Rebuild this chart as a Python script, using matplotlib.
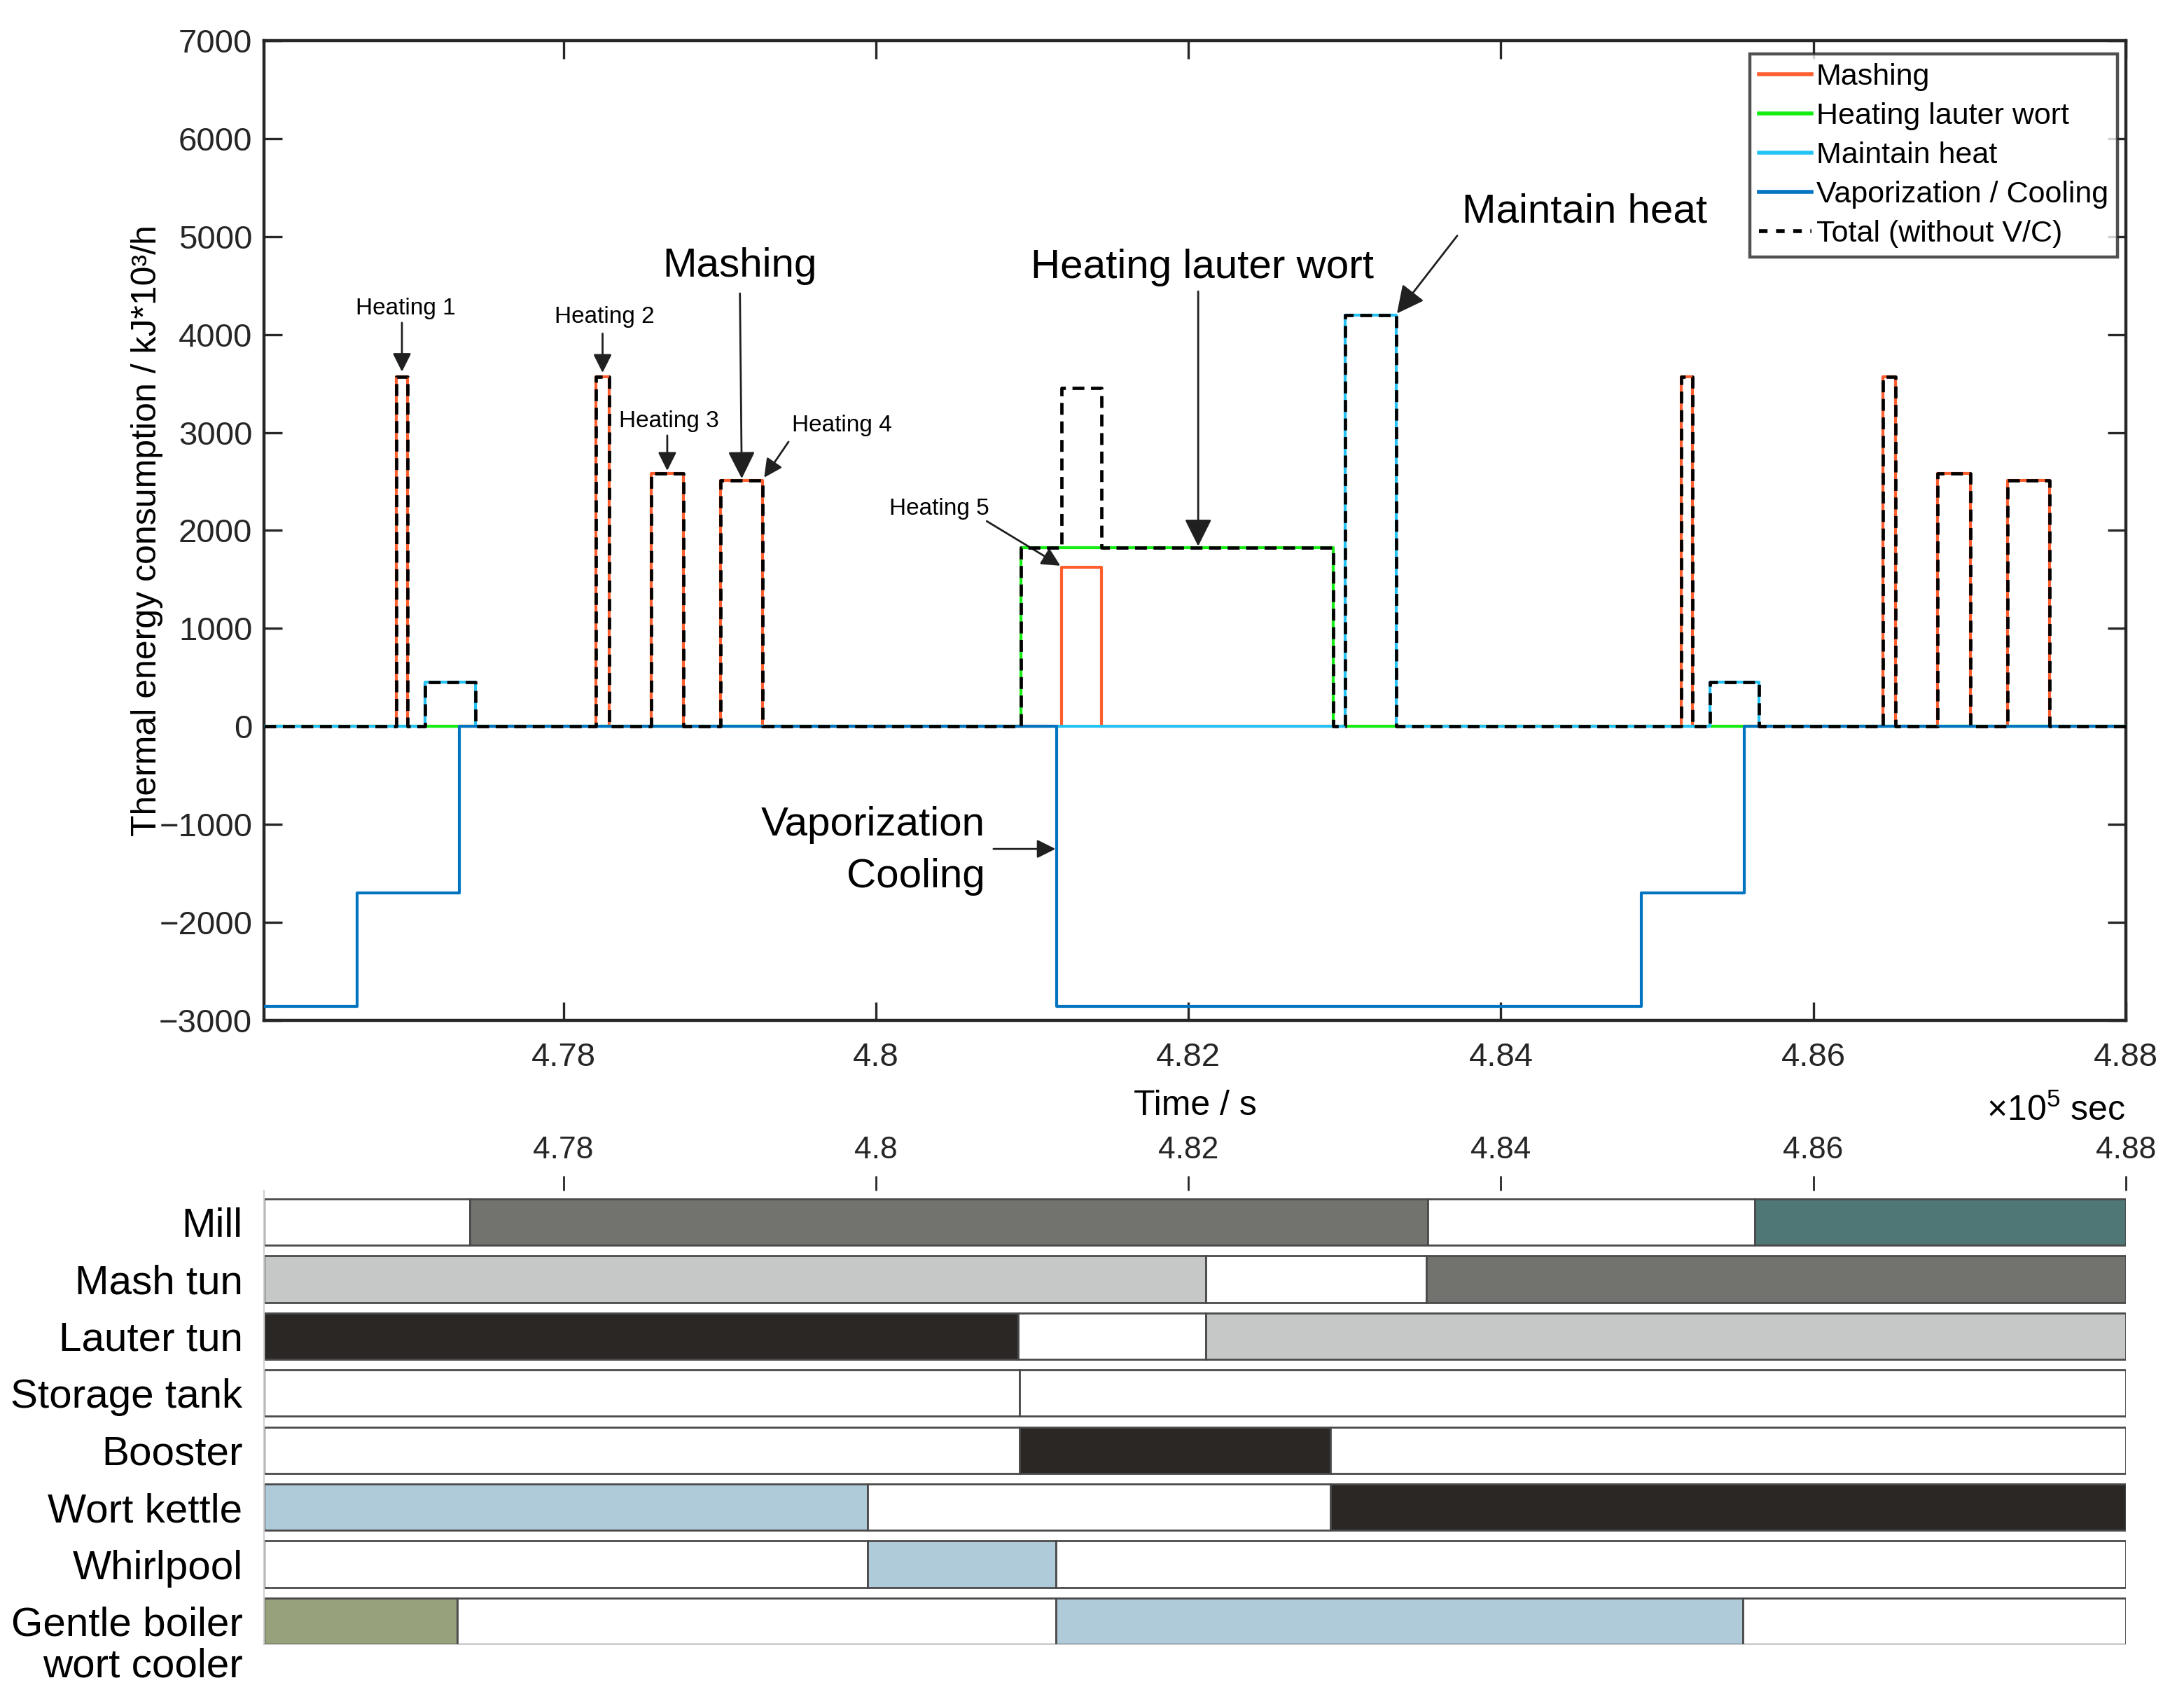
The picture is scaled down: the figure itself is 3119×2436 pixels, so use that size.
import numpy as np
import matplotlib
matplotlib.use("Agg")
import matplotlib.pyplot as plt
from matplotlib.lines import Line2D
from matplotlib.ticker import FuncFormatter

plt.rcParams["font.family"] = ["Liberation Sans", "DejaVu Sans"]
plt.rcParams["mathtext.fontset"] = "custom"
plt.rcParams["mathtext.rm"] = "Liberation Sans"
plt.rcParams["mathtext.it"] = "Liberation Sans:italic"

# time range (s)
T0, T1 = 476084, 488000

# thermal energy profiles: switching times (s) and levels (kJ*10^3/h), step "post"
mash_t = [T0, 476930, 477004, 478209, 478294, 478561, 478769, 479004, 479276,
          481188, 481443, 485156, 485228, 486443, 486524, 486796, 487006, 487241, 487510]
mash_v = [0, 3570, 0, 3570, 0, 2580, 0, 2510, 0,
          1625, 0, 3570, 0, 3570, 0, 2580, 0, 2510, 0]
lauter_t = [T0, 480928, 482929]
lauter_v = [0, 1828, 0]
maint_t = [T0, 477114, 477437, 483005, 483330, 485339, 485654]
maint_v = [0, 454, 0, 4200, 0, 454, 0]
vc_t = [T0, 476680, 477335, 481158, 484901, 485560]
vc_v = [-2860, -1700, 0, -2860, -1700, 0]

# occupancy of the units: segment edges (s) and batch id (None = idle)
units = ["Mill", "Mash tun", "Lauter tun", "Storage tank", "Booster",
         "Wort kettle", "Whirlpool", "Gentle boiler"]
mill_edges = [T0, 477402, 483531, 485627, T1]
mill_batch = [None, 5, None, 6]
mashtun_edges = [T0, 482111, 483522, T1]
mashtun_batch = [4, None, 5]
lautertun_edges = [T0, 480910, 482111, T1]
lautertun_batch = [3, None, 4]
storage_edges = [T0, 480920, T1]
storage_batch = [None, None]
booster_edges = [T0, 480920, 482911, T1]
booster_batch = [None, 3, None]
kettle_edges = [T0, 479945, 482911, T1]
kettle_batch = [2, None, 3]
whirlpool_edges = [T0, 479945, 481154, T1]
whirlpool_batch = [None, 2, None]
cooler_edges = [T0, 477320, 481154, 485548, T1]
cooler_batch = [1, None, 2, None]

unit_edges = [mill_edges, mashtun_edges, lautertun_edges, storage_edges,
              booster_edges, kettle_edges, whirlpool_edges, cooler_edges]
unit_batch = [mill_batch, mashtun_batch, lautertun_batch, storage_batch,
              booster_batch, kettle_batch, whirlpool_batch, cooler_batch]

BATCH_COLORS = {None: "white", 1: "#97A27D", 2: "#AFCBDA", 3: "#2A2725",
                4: "#C5C8C6", 5: "#72726E", 6: "#4E7775"}

C_MASH = "#FF5F2E"
C_LAUTER = "#14EE14"
C_MAINT = "#25C3F5"
C_VC = "#0074C0"

xticks = [478000, 480000, 482000, 484000, 486000, 488000]


def step_xy(t, v):
    return np.r_[t, T1], np.r_[v, v[-1]]


def value_at(t, v, x):
    idx = np.searchsorted(np.asarray(t), x, side="right") - 1
    return np.asarray(v)[idx]


fig = plt.figure(figsize=(15.595, 12.18), dpi=200)

# ---------------- upper panel ----------------
ax = fig.add_axes([0.12087, 0.40189, 0.8525, 0.5743])

ax.step(*step_xy(mash_t, mash_v), where="post", color=C_MASH, lw=1.5, zorder=2)
ax.step(*step_xy(lauter_t, lauter_v), where="post", color=C_LAUTER, lw=1.5, zorder=3)
ax.step(*step_xy(maint_t, maint_v), where="post", color=C_MAINT, lw=1.5, zorder=4)
ax.step(*step_xy(vc_t, vc_v), where="post", color=C_VC, lw=1.5, zorder=5)

tot_t = np.unique(np.r_[mash_t, lauter_t, maint_t])
tot_v = (value_at(mash_t, mash_v, tot_t) + value_at(lauter_t, lauter_v, tot_t)
         + value_at(maint_t, maint_v, tot_t))
ax.step(*step_xy(tot_t, tot_v), where="post", color="black", lw=1.7,
        ls=(0, (3.6, 2.0)), zorder=6)

ax.set_xlim(T0, T1)
ax.set_ylim(-3000, 7000)
ax.set_yticks(np.arange(-3000, 7001, 1000))
ax.set_xticks(xticks)
ax.xaxis.set_major_formatter(FuncFormatter(lambda x, p: f"{x / 1e5:g}"))
ax.tick_params(direction="in", length=9.5, width=1.2, top=True, right=True,
               labelsize=17, colors="#262626")
ax.tick_params(axis="y", pad=6)
ax.tick_params(axis="x", pad=11)
for s in ax.spines.values():
    s.set_linewidth(1.6)
    s.set_color("#262626")

ax.set_xlabel("Time / s", fontsize=18)
ax.xaxis.set_label_coords(0.5, -0.071)
ax.set_ylabel("Thermal energy consumption / kJ*10³/h", fontsize=18)
ax.yaxis.set_label_coords(-0.054, 0.5)
ax.text(1.0, -0.102, r"$\times10^5$ sec", transform=ax.transAxes,
        ha="right", va="baseline", fontsize=18)

handles = [Line2D([], [], color=C_MASH, lw=2),
           Line2D([], [], color=C_LAUTER, lw=2),
           Line2D([], [], color=C_MAINT, lw=2),
           Line2D([], [], color=C_VC, lw=2),
           Line2D([], [], color="black", lw=2, ls=(0, (2.2, 2.2)))]
labels = ["Mashing", "Heating lauter wort", "Maintain heat",
          "Vaporization / Cooling", "Total (without V/C)"]
leg = ax.legend(handles, labels, loc="upper right", bbox_to_anchor=(0.9955, 0.9864),
                borderaxespad=0, fontsize=15.5, frameon=True, fancybox=False,
                edgecolor="#262626", handlelength=1.75, handletextpad=0.15,
                labelspacing=0.37, borderpad=0.3)
leg.get_frame().set_linewidth(1.6)
leg.set_zorder(10)

# annotations
small = 12
big = 21
arr_small = dict(arrowstyle="-|>", color="#202020", lw=1.0, mutation_scale=20,
                 shrinkA=0, shrinkB=0)
arr_big = dict(arrowstyle="-|>", color="#202020", lw=1.0, mutation_scale=30,
               shrinkA=0, shrinkB=0)

ax.text(476990, 4269, "Heating 1", fontsize=small, ha="center", va="center")
ax.annotate("", xy=(476967, 3620), xytext=(476967, 4120), arrowprops=arr_small)
ax.text(478264, 4183, "Heating 2", fontsize=small, ha="center", va="center")
ax.annotate("", xy=(478251, 3610), xytext=(478251, 4010), arrowprops=arr_small)
ax.text(478675, 3117, "Heating 3", fontsize=small, ha="center", va="center")
ax.annotate("", xy=(478665, 2610), xytext=(478665, 2970), arrowprops=arr_small)
ax.text(479781, 3074, "Heating 4", fontsize=small, ha="center", va="center")
ax.annotate("", xy=(479285, 2540), xytext=(479441, 2905), arrowprops=arr_small)
ax.text(480405, 2220, "Heating 5", fontsize=small, ha="center", va="center")
ax.annotate("", xy=(481181, 1640), xytext=(480710, 2095), arrowprops=arr_small)

ax.text(479130, 4696, "Mashing", fontsize=big, ha="center", va="center")
ax.annotate("", xy=(479142, 2530), xytext=(479130, 4420), arrowprops=arr_big)
ax.text(482091, 4681, "Heating lauter wort", fontsize=big, ha="center", va="center")
ax.annotate("", xy=(482063, 1840), xytext=(482063, 4440), arrowprops=arr_big)
ax.text(484535, 5250, "Maintain heat", fontsize=big, ha="center", va="center")
ax.annotate("", xy=(483335, 4215), xytext=(483721, 5009), arrowprops=arr_big)
ax.text(480699, -1009, "Vaporization", fontsize=big, ha="right", va="center")
ax.text(480699, -1535, "Cooling", fontsize=big, ha="right", va="center")
ax.annotate("", xy=(481150, -1250), xytext=(480753, -1250), arrowprops=arr_small)

# ---------------- unit occupancy (Gantt) panel ----------------
gx = fig.add_axes([0.12087, 0.03612, 0.8525, 0.2660])
bar_h = 0.814
for i, (edges, batch) in enumerate(zip(unit_edges, unit_batch)):
    for k, b in enumerate(batch):
        gx.barh(i, edges[k + 1] - edges[k], left=edges[k], height=bar_h,
                color=BATCH_COLORS[b], edgecolor="#4a4a4a", linewidth=1.0)

gx.set_xlim(T0, T1)
gx.set_ylim(7.407, -0.555)
gx.set_yticks(range(len(units)))
gx.set_yticklabels(units)
gx.tick_params(axis="y", length=0, pad=11, labelsize=21)
gx.text(-0.0113, 7.80, "wort cooler", transform=gx.get_yaxis_transform(),
        ha="right", va="center", fontsize=21)
gx.xaxis.tick_top()
gx.set_xticks(xticks)
gx.xaxis.set_major_formatter(FuncFormatter(lambda x, p: f"{x / 1e5:g}"))
gx.tick_params(axis="x", direction="out", length=7.5, width=1.0, pad=6,
               labelsize=16, colors="#262626")
tick_cols = ["#262626", "#d8d8d8", "#d8d8d8", "#d8d8d8", "#262626", "none"]
for tk, c in zip(gx.xaxis.get_major_ticks(), tick_cols):
    tk.tick2line.set_color(c)
for name, s in gx.spines.items():
    s.set_visible(name == "left")
gx.spines["left"].set_color("#d0d0d0")
gx.spines["left"].set_linewidth(0.8)

fig.savefig("out.png", dpi=200)
